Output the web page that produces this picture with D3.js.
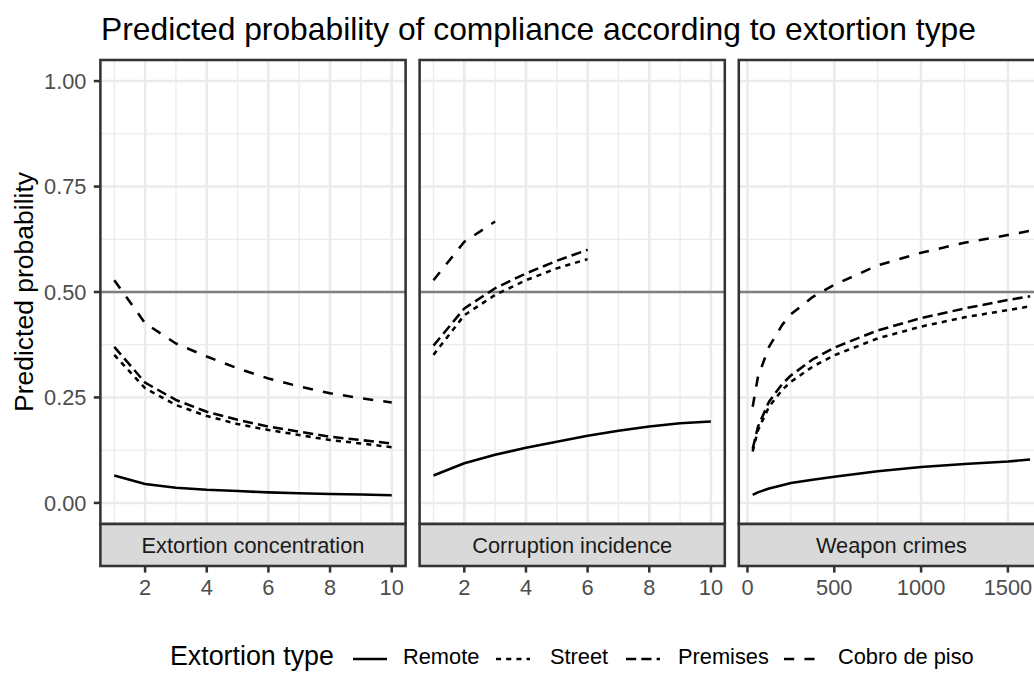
<!DOCTYPE html>
<html>
<head>
<meta charset="utf-8">
<script src="https://cdn.jsdelivr.net/npm/d3@7"></script>
<style>
  html, body { margin: 0; padding: 0; background: #fff; }
  svg { display: block; font-family: "Liberation Sans", Arial, sans-serif; }
</style>
</head>
<body>
<svg id="chart" width="1034" height="675"></svg>
<script>
// ---------------- data ----------------
const title = "Predicted probability of compliance according to extortion type";
const yTitle = "Predicted probability";
const legendTitle = "Extortion type";
const types = ["Remote", "Street", "Premises", "Cobro de piso"];
const facets = ["Extortion concentration", "Corruption incidence", "Weapon crimes"];

const yTicks = [0, 0.25, 0.5, 0.75, 1];
const yTickLabels = ["0.00", "0.25", "0.50", "0.75", "1.00"];
const xTicksConc = [2, 4, 6, 8, 10];
const xTicksCorr = [2, 4, 6, 8, 10];
const xTicksWeap = [0, 500, 1000, 1500];

// Panel 1: Extortion concentration
const concX = [1, 2, 3, 4, 5, 6, 7, 8, 9, 10];
const concRemote   = [0.065, 0.045, 0.036, 0.031, 0.028, 0.025, 0.023, 0.021, 0.020, 0.018];
const concStreet   = [0.351, 0.272, 0.232, 0.206, 0.187, 0.173, 0.161, 0.149, 0.141, 0.132];
const concPremises = [0.370, 0.285, 0.244, 0.216, 0.197, 0.181, 0.169, 0.157, 0.149, 0.141];
const concCobro    = [0.528, 0.426, 0.378, 0.347, 0.319, 0.295, 0.276, 0.260, 0.248, 0.238];

// Panel 2: Corruption incidence
const corrXRemote = [1, 2, 3, 4, 5, 6, 7, 8, 9, 10];
const corrRemote   = [0.065, 0.094, 0.114, 0.131, 0.145, 0.159, 0.171, 0.181, 0.189, 0.193];
const corrXMid = [1, 2, 3, 4, 5, 6];
const corrStreet   = [0.351, 0.445, 0.493, 0.528, 0.556, 0.578];
const corrPremises = [0.373, 0.461, 0.509, 0.544, 0.574, 0.600];
const corrXCobro = [1, 2, 3];
const corrCobro    = [0.528, 0.619, 0.667];

// Panel 3: Weapon crimes
const weapX = [30, 60, 124, 200, 250, 375, 500, 750, 1000, 1250, 1500, 1628];
const weapRemote   = [0.019, 0.025, 0.034, 0.042, 0.047, 0.055, 0.062, 0.075, 0.085, 0.092, 0.098, 0.103];
const weapStreet   = [0.122, 0.172, 0.228, 0.268, 0.287, 0.323, 0.350, 0.390, 0.418, 0.440, 0.457, 0.466];
const weapPremises = [0.128, 0.180, 0.240, 0.282, 0.302, 0.340, 0.368, 0.409, 0.438, 0.461, 0.481, 0.490];
const weapCobro    = [0.228, 0.298, 0.370, 0.422, 0.447, 0.488, 0.517, 0.563, 0.593, 0.617, 0.635, 0.645];

// ---------------- build panel table ----------------
function zip(xs, ys) { return xs.map((x, i) => ({ x: x, y: ys[i] })); }
const panelData = [
  { name: facets[0], ticks: xTicksConc, series: [zip(concX, concRemote), zip(concX, concStreet), zip(concX, concPremises), zip(concX, concCobro)] },
  { name: facets[1], ticks: xTicksCorr, series: [zip(corrXRemote, corrRemote), zip(corrXMid, corrStreet), zip(corrXMid, corrPremises), zip(corrXCobro, corrCobro)] },
  { name: facets[2], ticks: xTicksWeap, series: [zip(weapX, weapRemote), zip(weapX, weapStreet), zip(weapX, weapPremises), zip(weapX, weapCobro)] }
];

// ---------------- styles ----------------
const lw = 2.55;
const dashes = [null, `${2*lw},${2*lw}`, `${4*lw},${2*lw}`, `${4*lw},${4*lw}`];
const smallFont = 21.8;

const svg = d3.select("#chart");
const panelTop = 60, panelBottom = 524;
const panelLeft0 = 100.4, panelW = 305.2, panelGap = 14;
const stripH = 42;

const y = d3.scaleLinear().domain([-0.05, 1.05]).range([panelBottom, panelTop]);

// title
svg.append("text").attr("x", 101).attr("y", 40)
  .attr("font-size", 31.8).attr("fill", "#000").text(title);

// y axis title
svg.append("text")
  .attr("transform", `translate(33,${(panelTop + panelBottom) / 2}) rotate(-90)`)
  .attr("text-anchor", "middle").attr("font-size", 26.5).attr("fill", "#000")
  .text(yTitle);

// y axis ticks + labels (left of first panel)
yTicks.forEach((t, i) => {
  svg.append("line").attr("x1", panelLeft0 - 6.6).attr("x2", panelLeft0)
    .attr("y1", y(t)).attr("y2", y(t)).attr("stroke", "#333").attr("stroke-width", lw);
  svg.append("text").attr("x", 86.5).attr("y", y(t)).attr("dy", "0.36em")
    .attr("text-anchor", "end").attr("font-size", smallFont).attr("fill", "#4D4D4D")
    .text(yTickLabels[i]);
});

const line = (xs) => d3.line().x(d => xs(d.x)).y(d => y(d.y));

panelData.forEach((p, pi) => {
  const left = panelLeft0 + pi * (panelW + panelGap);
  const allX = p.series.flat().map(d => d.x);
  const [xmin, xmax] = d3.extent(allX);
  const pad = (xmax - xmin) * 0.05;
  const x = d3.scaleLinear().domain([xmin - pad, xmax + pad]).range([left, left + panelW]);

  const g = svg.append("g");
  const clipId = "clip" + pi;
  svg.append("clipPath").attr("id", clipId).append("rect")
    .attr("x", left).attr("y", panelTop).attr("width", panelW).attr("height", panelBottom - panelTop);
  const inner = g.append("g").attr("clip-path", `url(#${clipId})`);

  inner.append("rect").attr("x", left).attr("y", panelTop).attr("width", panelW)
    .attr("height", panelBottom - panelTop).attr("fill", "#fff");

  // minor grid
  const xt = p.ticks;
  const step = xt[1] - xt[0];
  const minorX = [];
  for (let v = xt[0] - step / 2; v <= xmax + pad; v += step) if (v >= xmin - pad) minorX.push(v);
  const minorY = [0.125, 0.375, 0.625, 0.875];
  minorX.forEach(v => inner.append("line").attr("x1", x(v)).attr("x2", x(v))
    .attr("y1", panelTop).attr("y2", panelBottom).attr("stroke", "#EBEBEB").attr("stroke-width", lw / 2));
  minorY.forEach(v => inner.append("line").attr("x1", left).attr("x2", left + panelW)
    .attr("y1", y(v)).attr("y2", y(v)).attr("stroke", "#EBEBEB").attr("stroke-width", lw / 2));
  // major grid
  xt.forEach(v => inner.append("line").attr("x1", x(v)).attr("x2", x(v))
    .attr("y1", panelTop).attr("y2", panelBottom).attr("stroke", "#EBEBEB").attr("stroke-width", lw));
  yTicks.forEach(v => inner.append("line").attr("x1", left).attr("x2", left + panelW)
    .attr("y1", y(v)).attr("y2", y(v)).attr("stroke", "#EBEBEB").attr("stroke-width", lw));

  // reference line at 0.5
  inner.append("line").attr("x1", left).attr("x2", left + panelW)
    .attr("y1", y(0.5)).attr("y2", y(0.5)).attr("stroke", "#7F7F7F").attr("stroke-width", lw);

  // series
  p.series.forEach((s, si) => {
    const path = inner.append("path").datum(s).attr("d", line(x))
      .attr("fill", "none").attr("stroke", "#000").attr("stroke-width", lw)
      .attr("stroke-linejoin", "round");
    if (dashes[si]) path.attr("stroke-dasharray", dashes[si]);
  });

  // border
  g.append("rect").attr("x", left).attr("y", panelTop).attr("width", panelW)
    .attr("height", panelBottom - panelTop).attr("fill", "none")
    .attr("stroke", "#333").attr("stroke-width", lw);

  // strip
  g.append("rect").attr("x", left).attr("y", panelBottom).attr("width", panelW)
    .attr("height", stripH).attr("fill", "#D9D9D9").attr("stroke", "#333").attr("stroke-width", lw);
  g.append("text").attr("x", left + panelW / 2).attr("y", 553)
    .attr("text-anchor", "middle").attr("font-size", smallFont).attr("fill", "#1A1A1A").text(p.name);

  // x axis ticks
  const axisTop = panelBottom + stripH;
  xt.forEach(v => {
    g.append("line").attr("x1", x(v)).attr("x2", x(v)).attr("y1", axisTop).attr("y2", axisTop + 6.6)
      .attr("stroke", "#333").attr("stroke-width", lw);
    g.append("text").attr("x", x(v)).attr("y", 595).attr("text-anchor", "middle")
      .attr("font-size", smallFont).attr("fill", "#4D4D4D").text(d3.format("d")(v));
  });
});

// ---------------- legend ----------------
const leg = svg.append("g");
leg.append("text").attr("x", 170).attr("y", 665).attr("font-size", 26.8).attr("fill", "#000").text(legendTitle);
const keyX = [353, 496, 626, 784];
const labX = [403, 550, 678, 838];
types.forEach((t, i) => {
  const l = leg.append("line").attr("x1", keyX[i]).attr("x2", keyX[i] + 34)
    .attr("y1", 659).attr("y2", 659).attr("stroke", "#000").attr("stroke-width", lw);
  if (dashes[i]) l.attr("stroke-dasharray", dashes[i]);
  leg.append("text").attr("x", labX[i]).attr("y", 664).attr("font-size", smallFont).attr("fill", "#000").text(t);
});
</script>
</body>
</html>
